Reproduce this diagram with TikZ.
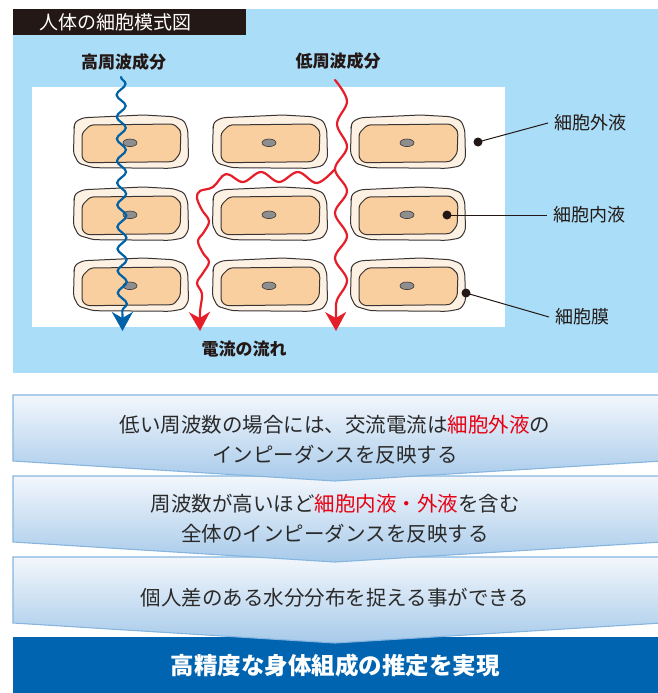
\documentclass[tikz,border=0pt]{standalone}
\usepackage{fontspec}
\setmainfont{Noto Sans CJK JP}
\usetikzlibrary{decorations.pathmorphing, arrows.meta}

\definecolor{panelblue}{HTML}{A9DDF8}
\definecolor{ink}{HTML}{231815}
\definecolor{textgray}{HTML}{2A2A2A}
\definecolor{cellcream}{HTML}{FDF1E4}
\definecolor{cellpeach}{HTML}{F9CFA0}
\definecolor{celledge}{HTML}{3A3433}
\definecolor{nucgray}{HTML}{8E8E8E}
\definecolor{waveblue}{HTML}{0062A6}
\definecolor{wavered}{HTML}{E61E2A}
\definecolor{hlred}{HTML}{E60012}
\definecolor{boxtop}{HTML}{F3F7FC}
\definecolor{boxbot}{HTML}{A7CAEA}
\definecolor{boxedge}{HTML}{86B5DF}
\definecolor{barblue}{HTML}{0064B0}

\newcommand{\hl}[1]{\textcolor{hlred}{#1}}

\tikzset{
  membrane/.style={fill=cellcream, draw=celledge, line width=1pt, rounded corners=3pt},
  cytoplasm/.style={fill=cellpeach, draw=celledge, line width=1pt, rounded corners=3pt},
  nucleus/.style={fill=nucgray, draw=celledge, line width=0.6pt},
  cell/.pic={
    \path[membrane] (-55.8,-20.3) -- (-47.5,-24.3) -- (12.5,-27) -- (42.5,-25.3)
      -- (53.2,-21.3) -- (56.8,-12) -- (57.5,16.3) -- (52.5,24) -- (39.2,26.3)
      -- (-37.5,25.7) -- (-52.5,21.3) -- (-57.5,11.3) -- (-56.8,-15.3) -- cycle;
    \path[cytoplasm] (-49,-8.7) -- (-40.8,-17) -- (42.5,-18) -- (47.5,-13.7)
      -- (49.9,-10.3) -- (49.2,11.3) -- (42.5,19.7) -- (-44,20.7) -- (-49,16.3) -- cycle;
    \path[nucleus] (-1,0.8) ellipse [x radius=7, y radius=3.8];
  },
  flowtip/.style={-{Stealth[length=19pt, width=21pt, inset=6pt]}},
  hfwave/.style={draw=waveblue, line width=2.2pt, line cap=round, decorate,
    decoration={snake, segment length=22pt, amplitude=4.5pt, post length=18pt}},
  lfwave/.style={draw=wavered, line width=2.2pt, line cap=round, line join=round},
  wavelabel/.style={font=\fontsize{17}{20}\selectfont\bfseries, text=ink, inner sep=0pt},
  partlabel/.style={font=\fontsize{18}{21}\selectfont, text=ink, anchor=west, inner xsep=6pt, inner ysep=1pt},
  dot/.style={circle, fill=ink, inner sep=0pt, minimum size=9pt},
  leader/.style={draw=ink, line width=1pt},
  chev/.style={draw=boxedge, line width=1.1pt, top color=boxtop, bottom color=boxbot},
  boxtext/.style={font=\fontsize{20.5}{30}\selectfont, text=textgray, align=center, inner sep=0pt},
}

\begin{document}
\begin{tikzpicture}[x=1pt, y=-1pt]
\useasboundingbox (0,0) rectangle (657,693);

% background panel, title bar and tissue window
\fill[panelblue] (13,9) rectangle (662,373);
\fill[ink] (13,9) rectangle (246,35);
\node[font=\fontsize{19}{22}\selectfont, text=white, anchor=west, inner sep=0pt] (title) at (39,22) {人体の細胞模式図};
\fill[white] (32,87) rectangle (505,327);

% cells, three rows by three columns
\foreach \cx/\cn in {131/a, 270/b, 408/c}
  \foreach \cy/\rn in {142/1, 214/2, 285/3}
    \pic (cell\cn\rn) at (\cx,\cy) {cell};

% current paths
\node[wavelabel] (hf) at (123.5,62) {高周波成分};
\node[wavelabel] (lf) at (338,61) {低周波成分};
\node[wavelabel] (flow) at (244,349) {電流の流れ};

\coordinate (hfTop) at (121,77);
\coordinate (hfEnd) at (122.5,331);
\draw[hfwave, flowtip] (hfTop) -- (hfEnd);

\coordinate (lfTop) at (335,80);
\coordinate (split) at (335,169);
\coordinate (lfEndR) at (336,331);
\coordinate (lfEndL) at (200,331);
\draw[lfwave, flowtip] plot[smooth, tension=0.6] coordinates {
  (lfTop) (347,101) (337,124) (347,147) (split) (347,191) (335,213) (347,236)
  (335,258) (347,280) (337,300) (336,313) (lfEndR)};
\draw[lfwave, flowtip] plot[smooth, tension=0.6] coordinates {
  (split) (317,183) (298,172) (279,182) (261,172) (243,182) (226,174) (213,187)
  (200,191) (197,198) (202,210) (209,221) (204,232) (198,241) (203,253) (209,262)
  (203,273) (197,283) (202,294) (200,312) (lfEndL)};

% part labels with leader lines
\node[dot] (dEx) at (478,142) {};
\node[dot] (dIn) at (447,215) {};
\node[dot] (dMb) at (466,293) {};
\node[partlabel] (lEx) at (548,123) {細胞外液};
\node[partlabel] (lIn) at (547,215) {細胞内液};
\node[partlabel] (lMb) at (549,317) {細胞膜};
\draw[leader] (dEx.center) -- (lEx.west);
\draw[leader] (dIn.center) -- (lIn.west);
\draw[leader] (dMb.center) -- (lMb.west);

% flow of conclusions, bottom to top so each tip overlaps the next box
\fill[barblue] (13,637) rectangle (662,693);
\path[chev] (13,557) -- (662,557) -- (662,623) -- (335,643) -- (13,623) -- cycle;
\path[chev] (13,476) -- (662,476) -- (662,542) -- (335,562) -- (13,542) -- cycle;
\path[chev] (13,395) -- (662,395) -- (662,461) -- (335,481) -- (13,461) -- cycle;

\node[boxtext] (s1) at (335,440) {低い周波数の場合には、交流電流は\hl{細胞外液}の\\インピーダンスを反映する};
\node[boxtext] (s2) at (335,519) {周波数が高いほど\hl{細胞内液・外液}を含む\\全体のインピーダンスを反映する};
\node[boxtext] (s3) at (335,598) {個人差のある水分分布を捉える事ができる};
\node[font=\fontsize{23.5}{26}\selectfont\bfseries, text=white, inner sep=0pt] (goal) at (335,666) {高精度な身体組成の推定を実現};
\end{tikzpicture}
\end{document}
